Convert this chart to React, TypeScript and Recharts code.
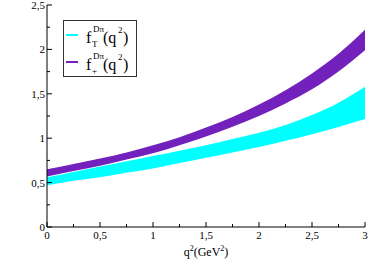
import React from "react";
import { ComposedChart, Area, XAxis, YAxis, Label } from "recharts";

const qSquared = [0, 0.25, 0.5, 0.75, 1, 1.25, 1.5, 1.75, 2, 2.25, 2.5, 2.75, 3];
const fPlusUpper = [0.65, 0.71, 0.77, 0.84, 0.92, 1.01, 1.12, 1.24, 1.38, 1.54, 1.73, 1.95, 2.22];
const fPlusLower = [0.57, 0.63, 0.69, 0.76, 0.83, 0.92, 1.02, 1.13, 1.25, 1.39, 1.55, 1.75, 1.99];
const fTUpper = [0.56, 0.62, 0.68, 0.74, 0.8, 0.86, 0.92, 0.99, 1.06, 1.15, 1.26, 1.4, 1.58];
const fTLower = [0.47, 0.52, 0.56, 0.61, 0.66, 0.72, 0.78, 0.84, 0.9, 0.97, 1.045, 1.125, 1.215];

const xTicks = [0, 0.25, 0.5, 0.75, 1, 1.25, 1.5, 1.75, 2, 2.25, 2.5, 2.75, 3];
const yTicks = [0, 0.25, 0.5, 0.75, 1, 1.25, 1.5, 1.75, 2, 2.25, 2.5];

const CYAN = "#00ffff";
const PURPLE = "#7221bc";
const FONT = "'Liberation Serif', 'DejaVu Serif', serif";

const legendItems = [
  { sub: "T", color: CYAN },
  { sub: "+", color: PURPLE },
];

const data = qSquared.map((q, i) => ({
  q,
  fT: [fTLower[i], fTUpper[i]],
  fPlus: [fPlusLower[i], fPlusUpper[i]],
}));

const isMajor = (v: number) => Math.abs(v * 2 - Math.round(v * 2)) < 1e-6;
const fmt = (v: number) => String(v).replace(".", ",");

const BottomTick = (props: any) => {
  const { x, y, payload } = props;
  const major = isMajor(payload.value);
  return (
    <g>
      <line x1={x} x2={x} y1={y} y2={y - (major ? 5 : 3)} stroke="#000" />
      {major && (
        <text x={x} y={y + 12} textAnchor="middle" fontSize={11} fontFamily={FONT} fill="#000">
          {fmt(payload.value)}
        </text>
      )}
    </g>
  );
};

const TopTick = (props: any) => {
  const { x, y, payload } = props;
  const major = isMajor(payload.value);
  return <line x1={x} x2={x} y1={y} y2={y + (major ? 5 : 3)} stroke="#000" />;
};

const LeftTick = (props: any) => {
  const { x, y, payload } = props;
  const major = isMajor(payload.value);
  return (
    <g>
      <line x1={x} x2={x + (major ? 5 : 3)} y1={y} y2={y} stroke="#000" />
      {major && (
        <text x={x - 2} y={y + 4} textAnchor="end" fontSize={11} fontFamily={FONT} fill="#000">
          {fmt(payload.value)}
        </text>
      )}
    </g>
  );
};

const RightTick = (props: any) => {
  const { x, y, payload } = props;
  const major = isMajor(payload.value);
  return <line x1={x} x2={x - (major ? 5 : 3)} y1={y} y2={y} stroke="#000" />;
};

const XLabel = (props: any) => {
  const vb = props.viewBox;
  const cx = vb.x + vb.width / 2;
  const by = vb.y + 29;
  return (
    <text x={cx} y={by} textAnchor="middle" fontSize={12} fontFamily={FONT} fill="#000">
      q<tspan dy={-5} fontSize={8}>2</tspan>
      <tspan dy={5}>(GeV</tspan>
      <tspan dy={-5} fontSize={8}>2</tspan>
      <tspan dy={5}>)</tspan>
    </text>
  );
};

const LegendBox = () => (
  <svg
    width={75}
    height={58}
    style={{ position: "absolute", left: 63, top: 20 }}
  >
    <rect x={0.5} y={0.5} width={73} height={56} fill="#fff" stroke="#333" />
    {legendItems.map((it, i) => {
      const base = 23 + i * 27;
      return (
        <g key={i} fontFamily={FONT} fill="#000">
          <line x1={3} x2={15} y1={base - 8} y2={base - 8} stroke={it.color} strokeWidth={2} />
          <text x={23} y={base} fontSize={16}>f</text>
          <text x={30} y={base - 11} fontSize={9}>Dπ</text>
          <text x={29} y={base + 4} fontSize={9}>{it.sub}</text>
          <text x={40} y={base} fontSize={16}>(q</text>
          <text x={55} y={base - 10} fontSize={9}>2</text>
          <text x={60} y={base} fontSize={16}>)</text>
        </g>
      );
    })}
  </svg>
);

export default function App() {
  return (
    <div style={{ position: "absolute", left: 0, top: 0, width: 368, height: 275, background: "#fff" }}>
      <ComposedChart
        width={368}
        height={275}
        data={data}
        margin={{ top: 5, right: 3, bottom: 0, left: 0 }}
      >
        <XAxis
          xAxisId="main"
          dataKey="q"
          type="number"
          domain={[0, 3]}
          ticks={xTicks}
          interval={0}
          height={48}
          tickSize={0}
          tickMargin={0}
          tickLine={false}
          tick={<BottomTick />}
          axisLine={{ stroke: "#000" }}
        >
          <Label content={<XLabel />} />
        </XAxis>
        <XAxis
          xAxisId="top"
          orientation="top"
          type="number"
          domain={[0, 3]}
          ticks={xTicks}
          interval={0}
          height={0}
          tickSize={0}
          tickMargin={0}
          tickLine={false}
          tick={<TopTick />}
          axisLine={{ stroke: "#000" }}
        />
        <YAxis
          yAxisId="main"
          type="number"
          domain={[0, 2.5]}
          ticks={yTicks}
          interval={0}
          width={47}
          tickSize={0}
          tickMargin={0}
          tickLine={false}
          tick={<LeftTick />}
          axisLine={{ stroke: "#000" }}
        />
        <YAxis
          yAxisId="right"
          orientation="right"
          type="number"
          domain={[0, 2.5]}
          ticks={yTicks}
          interval={0}
          width={0}
          tickSize={0}
          tickMargin={0}
          tickLine={false}
          tick={<RightTick />}
          axisLine={{ stroke: "#000" }}
        />
        <Area
          xAxisId="main"
          yAxisId="main"
          type="monotone"
          dataKey="fT"
          stroke="none"
          fill={CYAN}
          fillOpacity={1}
          isAnimationActive={false}
        />
        <Area
          xAxisId="main"
          yAxisId="main"
          type="monotone"
          dataKey="fPlus"
          stroke="none"
          fill={PURPLE}
          fillOpacity={1}
          isAnimationActive={false}
        />
      </ComposedChart>
      <LegendBox />
    </div>
  );
}
